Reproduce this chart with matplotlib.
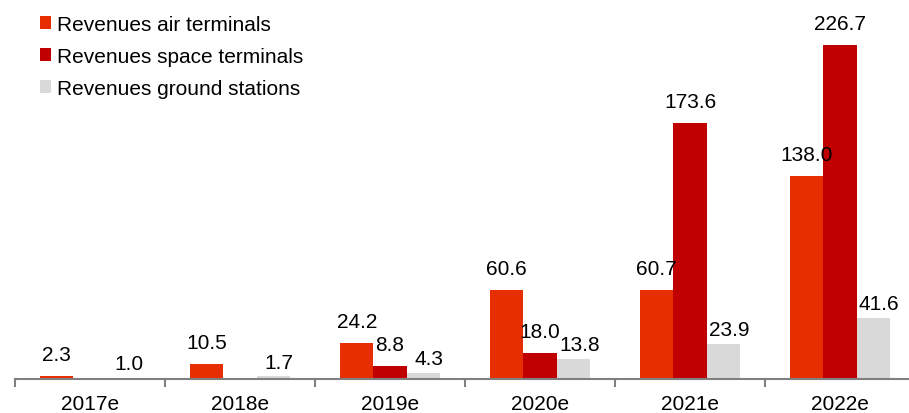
import numpy as np
import matplotlib.pyplot as plt
from matplotlib.ticker import FixedLocator

plt.rcParams['font.family'] = ['Liberation Sans', 'DejaVu Sans']

years = ['2017e', '2018e', '2019e', '2020e', '2021e', '2022e']
air = [2.3, 10.5, 24.2, 60.6, 60.7, 138.0]
space = [0.0, 0.0, 8.8, 18.0, 173.6, 226.7]
ground = [1.0, 1.7, 4.3, 13.8, 23.9, 41.6]

series = [
    ('Revenues air terminals', air, '#E62E00'),
    ('Revenues space terminals', space, '#C00000'),
    ('Revenues ground stations', ground, '#D9D9D9'),
]
# label offsets in points (dx, dy); grey labels sit lower and a bit right
offsets = [(0, 11.5), (0, 11.5), (4.3, 6)]

fig = plt.figure(figsize=(9.09, 4.14), dpi=100)
ax = fig.add_axes([15 / 909, 34 / 414, 894 / 909, 368 / 414])

x = np.arange(len(years))
w = 0.222
for i, (name, vals, color) in enumerate(series):
    bars = ax.bar(x + (i - 1) * w, vals, width=w, color=color, label=name)
    for b, v in zip(bars, vals):
        if v <= 0:
            continue
        ax.annotate(f'{v:.1f}', (b.get_x() + b.get_width() / 2, v),
                    xytext=offsets[i], textcoords='offset points',
                    ha='center', va='baseline', fontsize=15)

ax.set_xlim(-0.5, 5.46)
ax.set_ylim(0, 250)
ax.set_xticks(x)
ax.set_xticklabels(years, fontsize=15)
ax.tick_params(axis='x', which='major', length=0, pad=10.5)
ax.xaxis.set_minor_locator(FixedLocator(np.arange(-0.5, 6, 1.0)))
ax.tick_params(axis='x', which='minor', length=6, width=1.5, color='#808080')
ax.set_yticks([])
for s in ['top', 'right', 'left']:
    ax.spines[s].set_visible(False)
ax.spines['bottom'].set_color('#808080')
ax.spines['bottom'].set_linewidth(1.5)

fig.legend(loc='upper left', bbox_to_anchor=(40 / 909, 1 - 16 / 414),
           bbox_transform=fig.transFigure, frameon=False, fontsize=15,
           handlelength=0.53, handleheight=0.53, handletextpad=0.3,
           labelspacing=0.62, borderpad=0, borderaxespad=0)

fig.savefig('out.png', dpi=100)
